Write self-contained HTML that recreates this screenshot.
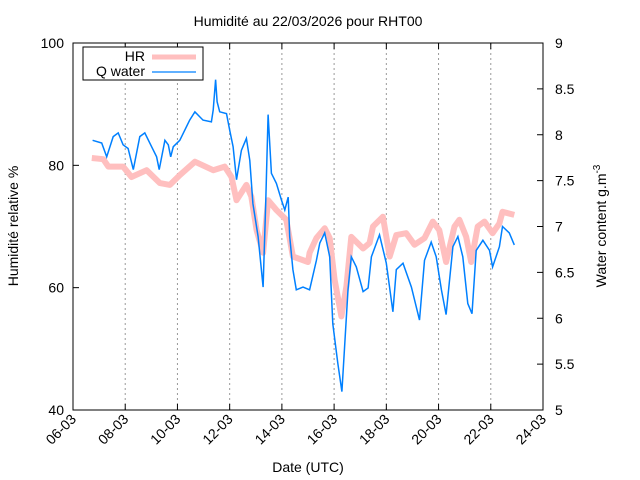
<!DOCTYPE html>
<html><head><meta charset="utf-8"><style>
body{margin:0;background:#fff}
svg{display:block;font-family:"Liberation Sans",sans-serif}
</style></head><body>
<svg id="chart" width="640" height="480">
<rect width="640" height="480" fill="#fff"/>
<text x="308" y="26" font-size="14" text-anchor="middle">Humidité au 22/03/2026 pour RHT00</text>
<g id="grid"></g>
<g id="series"></g>
<rect x="73" y="43" width="470" height="367" fill="none" stroke="#000" stroke-width="1"/>
<g id="axes"></g>
<text transform="translate(18,226) rotate(-90)" font-size="14" text-anchor="middle">Humidité relative %</text>
<text transform="translate(606,226) rotate(-90)" font-size="14" text-anchor="middle">Water content g.m<tspan dy="-6" font-size="10">-3</tspan></text>
<text x="308" y="472" font-size="14" text-anchor="middle">Date (UTC)</text>
<g>
<rect x="83" y="47" width="120" height="33" fill="#fff" stroke="#000" stroke-width="1"/>
<text x="145" y="61" font-size="14" text-anchor="end">HR</text>
<line x1="152" y1="57" x2="196" y2="57" stroke="#ffbfbf" stroke-width="5"/>
<text x="145" y="76" font-size="14" text-anchor="end">Q water</text>
<line x1="152" y1="72" x2="196" y2="72" stroke="#0080ff" stroke-width="1.2"/>
</g>
</svg>
<script>
const xTickDays=[6,8,10,12,14,16,18,20,22,24];
const xTickLabels=["06-03","08-03","10-03","12-03","14-03","16-03","18-03","20-03","22-03","24-03"];
const yLeftTicks=[40,60,80,100];
const yRightTicks=[5,5.5,6,6.5,7,7.5,8,8.5,9];
const hrDays=[6.72,7.16,7.35,7.92,8.24,8.82,9.33,9.71,10.09,10.67,11.37,11.81,12.07,12.26,12.64,12.83,13.03,13.28,13.47,13.79,14.17,14.42,15.0,15.06,15.32,15.64,15.83,16.02,16.28,16.47,16.66,17.11,17.36,17.49,17.87,18.13,18.38,18.76,19.08,19.46,19.78,20.03,20.29,20.61,20.80,21.06,21.25,21.50,21.76,22.07,22.33,22.45,22.90];
const hrValues=[81.2,81.0,79.8,79.8,78.1,79.2,77.1,76.8,78.4,80.6,79.2,79.8,78.1,74.3,76.8,74.9,69.4,65.7,74.3,72.7,71.1,65.1,64.2,65.7,68.1,69.7,68.1,61.3,55.3,60.2,68.3,66.4,67.3,70.0,71.6,65.1,68.6,68.9,67.0,68.1,70.8,69.4,64.2,70.0,71.1,68.3,64.2,70.0,70.8,68.9,70.5,72.4,71.9];
const qDays=[6.75,7.10,7.29,7.54,7.73,7.92,8.11,8.31,8.56,8.75,9.01,9.20,9.30,9.52,9.65,9.74,9.84,10.09,10.47,10.67,10.98,11.30,11.37,11.46,11.52,11.62,11.88,12.00,12.13,12.26,12.45,12.64,12.77,12.89,13.09,13.28,13.38,13.47,13.60,13.79,13.98,14.11,14.24,14.30,14.42,14.55,14.81,15.06,15.32,15.45,15.64,15.83,15.95,16.14,16.30,16.40,16.53,16.66,16.85,17.11,17.30,17.43,17.74,18.00,18.25,18.38,18.64,18.96,19.27,19.46,19.72,19.91,20.11,20.29,20.55,20.74,20.93,21.12,21.28,21.44,21.70,21.95,22.07,22.33,22.45,22.71,22.90];
const qValues=[7.94,7.91,7.76,7.98,8.02,7.89,7.85,7.62,7.98,8.02,7.87,7.76,7.62,7.94,7.89,7.76,7.87,7.94,8.16,8.25,8.16,8.14,8.27,8.60,8.36,8.25,8.23,8.05,7.87,7.51,7.83,7.96,7.72,7.25,6.89,6.34,7.25,8.22,7.58,7.47,7.29,7.18,7.32,6.89,6.53,6.31,6.34,6.31,6.63,6.82,6.93,6.67,5.94,5.51,5.20,5.69,6.31,6.67,6.56,6.29,6.33,6.67,6.91,6.60,6.07,6.53,6.60,6.34,5.98,6.63,6.83,6.67,6.31,6.04,6.78,6.89,6.67,6.16,6.05,6.74,6.85,6.74,6.56,6.78,7.00,6.93,6.80];

const NS="http://www.w3.org/2000/svg";
const L=73,R=543,T=43,B=410;
function xs(d){return L+(d-6)/18*(R-L);}
function yl(v){return B-(v-40)/60*(B-T);}
function yr(v){return B-(v-5)/4*(B-T);}
function mk(tag,attrs,parent){const e=document.createElementNS(NS,tag);for(const k in attrs)e.setAttribute(k,attrs[k]);parent.appendChild(e);return e;}
const grid=document.getElementById('grid'),axes=document.getElementById('axes'),series=document.getElementById('series');
xTickDays.forEach((d,i)=>{
  const x=xs(d);
  if(i>0&&i<xTickDays.length-1){
    const g=mk('line',{x1:x,y1:T,x2:x,y2:B,stroke:'#999','stroke-dasharray':'2,3','stroke-width':1},grid);
    
    
  }
  const t=mk('line',{x1:x,y1:B,x2:x,y2:B-6,stroke:'#000'},axes);
  
  
  const t2=mk('line',{x1:x,y1:T,x2:x,y2:T+6,stroke:'#000'},axes);
  
  
  const lb=mk('text',{transform:`translate(${x+4},${B+10}) rotate(-45)`,'font-size':14,'text-anchor':'end'},axes);
  lb.textContent=xTickLabels[i];
  
  
});
yLeftTicks.forEach(v=>{
  const y=yl(v);
  const t=mk('line',{x1:L,y1:y,x2:L+6,y2:y,stroke:'#000'},axes);
  
  
  const lb=mk('text',{x:L-9,y:y+5,'font-size':14,'text-anchor':'end'},axes);
  lb.textContent=v;
  
  
});
yRightTicks.forEach(v=>{
  const y=yr(v);
  const t=mk('line',{x1:R,y1:y,x2:R-6,y2:y,stroke:'#000'},axes);
  
  
  const lb=mk('text',{x:R+12,y:y+5,'font-size':14},axes);
  lb.textContent=v;
  
  
});
const hrPts=hrDays.map((d,i)=>xs(d).toFixed(1)+','+yl(hrValues[i]).toFixed(1)).join(' ');
const hr=mk('polyline',{points:hrPts,fill:'none',stroke:'#ffbfbf','stroke-width':6,'stroke-linejoin':'round'},series);


const qPts=qDays.map((d,i)=>xs(d).toFixed(1)+','+yr(qValues[i]).toFixed(1)).join(' ');
const q=mk('polyline',{points:qPts,fill:'none',stroke:'#0080ff','stroke-width':1.5},series);


</script>
</body></html>
